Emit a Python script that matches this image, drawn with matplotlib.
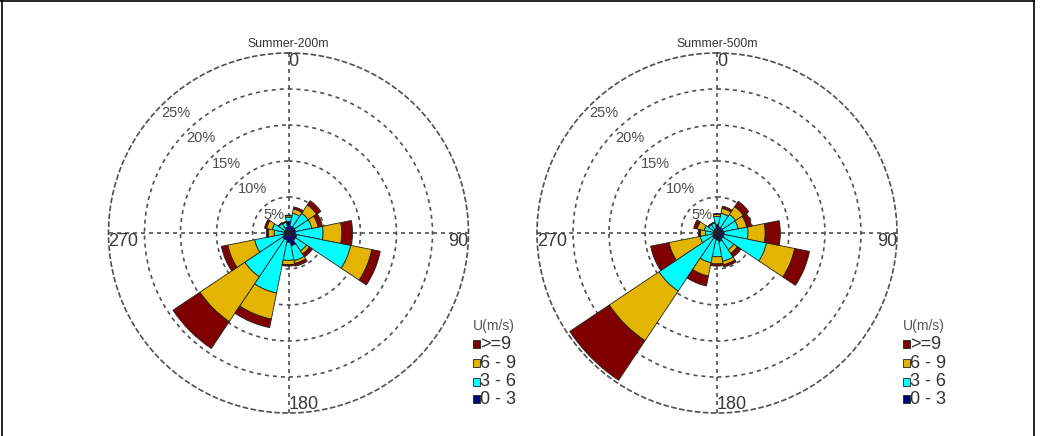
import numpy as np
import matplotlib
matplotlib.use("Agg")
import matplotlib.pyplot as plt
from matplotlib.patches import Rectangle
from matplotlib.lines import Line2D

plt.rcParams['font.family'] = ['Liberation Sans', 'DejaVu Sans']

# ---------------- data ----------------
directions = [0, 22.5, 45, 67.5, 90, 112.5, 135, 157.5,
              180, 202.5, 225, 247.5, 270, 292.5, 315, 337.5]
speed_labels = ['>=9', '6 - 9', '3 - 6', '0 - 3']
legend_title = 'U(m/s)'
titles = ['Summer-200m', 'Summer-500m']
ring_levels = [5, 10, 15, 20, 25]
ring_labels = ['5%', '10%', '15%', '20%', '25%']
cardinal_angles = [0, 90, 180, 270]
cardinal_labels = ['0', '90', '180', '270']

# frequency (%) of each speed class per direction, Summer-200m
f200_0_3 = [1.6, 1.0, 1.0, 1.0, 1.0, 1.2, 1.2, 1.8, 1.3, 1.0, 1.0, 0.8, 0.6, 0.6, 0.6, 0.8]
f200_3_6 = [0.6, 1.8, 2.3, 2.3, 3.8, 7.6, 1.8, 2.1, 2.5, 7.5, 6.3, 4.0, 1.4, 1.7, 1.0, 0.7]
f200_6_9 = [0.2, 0.6, 1.4, 0.9, 2.6, 3.0, 0.5, 0.4, 0.6, 3.7, 7.5, 3.8, 0.8, 0.8, 0.1, 0.1]
f200_ge9 = [0.1, 0.3, 0.7, 0.6, 1.5, 1.2, 0.5, 0.4, 0.2, 1.2, 4.5, 0.9, 0.3, 0.3, 0.0, 0.0]

# frequency (%) of each speed class per direction, Summer-500m
f500_0_3 = [1.2, 0.9, 0.9, 0.9, 1.0, 1.0, 1.0, 1.2, 1.0, 0.8, 0.8, 0.6, 0.5, 0.5, 0.5, 0.6]
f500_3_6 = [1.1, 1.9, 2.2, 2.1, 3.3, 6.0, 1.8, 2.8, 2.3, 3.4, 8.9, 1.8, 1.1, 1.3, 0.9, 0.8]
f500_6_9 = [0.3, 0.7, 1.3, 1.2, 2.4, 4.0, 0.6, 0.5, 1.0, 1.9, 8.3, 4.4, 0.7, 1.0, 0.1, 0.1]
f500_ge9 = [0.1, 0.3, 0.9, 0.7, 2.1, 2.1, 0.6, 0.3, 0.3, 1.4, 6.6, 2.6, 0.3, 0.5, 0.0, 0.0]

series_200 = [f200_0_3, f200_3_6, f200_6_9, f200_ge9]
series_500 = [f500_0_3, f500_3_6, f500_6_9, f500_ge9]

# ---------------- style ----------------
class_colors = ['#000080', '#00FFFF', '#E3B400', '#800000']   # 0-3, 3-6, 6-9, >=9
legend_colors = ['#800000', '#E3B400', '#00FFFF', '#000080']  # order of speed_labels
grid_color = '#505050'
dash = (0, (2.4, 2.4))

W, H = 1040, 436
fig = plt.figure(figsize=(W / 100, H / 100), dpi=100)
fig.patch.set_facecolor('white')


def rect_px(cx, cy, R):
    return [(cx - R) / W, (H - (cy + R)) / H, 2 * R / W, 2 * R / H]


def fx(x):
    return x / W


def fy(y):
    return 1 - y / H


def draw_rose(cx, cy, R, series, title, legend_x):
    ax = fig.add_axes(rect_px(cx, cy, R), projection='polar')
    ax.set_theta_zero_location('N')
    ax.set_theta_direction(-1)
    ax.set_ylim(0, ring_levels[-1])
    ax.set_yticks(ring_levels[:-1])
    ax.set_yticklabels([])
    ax.set_xticks(np.deg2rad(cardinal_angles))
    ax.set_xticklabels([])
    ax.tick_params(length=0)
    ax.grid(True, color=grid_color, linestyle=dash, linewidth=1.2)
    ax.spines['polar'].set_linestyle(dash)
    ax.spines['polar'].set_color(grid_color)
    ax.spines['polar'].set_linewidth(1.2)
    ax.set_axisbelow(True)
    ax.patch.set_alpha(0)

    theta = np.deg2rad(directions)
    width = np.deg2rad(22.5)
    bottom = np.zeros(len(directions))
    for vals, col in zip(series, class_colors):
        vals = np.asarray(vals, dtype=float)
        ax.bar(theta, vals, width=width, bottom=bottom, color=col,
               edgecolor='#222222', linewidth=0.6, align='center', zorder=3)
        bottom = bottom + vals

    # ring labels
    for lev, lab in zip(ring_levels, ring_labels):
        ax.text(np.deg2rad(315), lev, lab, ha='left', va='top',
                fontsize=10.5, color='#4d4d4d', zorder=6)

    # cardinal labels
    placement = {0: ('left', 'top'), 90: ('right', 'top'),
                 180: ('left', 'bottom'), 270: ('left', 'top')}
    for ang, lab in zip(cardinal_angles, cardinal_labels):
        ha, va = placement[ang]
        ax.text(np.deg2rad(ang), ring_levels[-1], lab, ha=ha, va=va,
                fontsize=13, color='#3a3a3a', zorder=6)

    fig.text(fx(cx), fy(44), title, ha='center', va='center',
             fontsize=8.8, color='#333333')

    # legend
    fig.text(fx(legend_x), fy(326), legend_title, ha='left', va='center',
             fontsize=10, color='#555555')
    rows_y = [344, 363, 381.5, 399]
    for yy, lab, col in zip(rows_y, speed_labels, legend_colors):
        fig.add_artist(Rectangle((fx(legend_x), fy(yy + 4)), 7 / W, 8 / H,
                                 transform=fig.transFigure, facecolor=col,
                                 edgecolor='#222222', linewidth=0.6))
        fig.text(fx(legend_x + 7.5), fy(yy), lab, ha='left', va='center',
                 fontsize=13, color='#333333')


draw_rose(288.5, 233, 180, series_200, titles[0], 473)
draw_rose(717, 233, 180, series_500, titles[1], 903)

# outer frame of the original figure
for xs, ys in [([1.5, 1.5], [0, H]), ([0, 1034], [1.5, 1.5]), ([1034, 1034], [0, H])]:
    fig.add_artist(Line2D([fx(x) for x in xs], [fy(y) for y in ys],
                          transform=fig.transFigure, color='black', linewidth=1.2))

fig.savefig('out.png', dpi=100, facecolor='white')
